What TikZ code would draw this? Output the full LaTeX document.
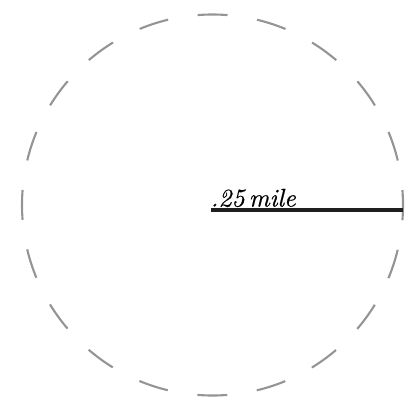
\documentclass[tikz,border=0pt]{standalone}
\usepackage{fontspec}
\setmainfont{Latin Modern Roman}
\newfontface\lblface{lmroman10-italic.otf}[FakeBold=0.5]
\begin{document}
\begin{tikzpicture}[x=1pt,y=1pt,
  ring/.style={draw=black!42, line width=2.1pt, dash pattern=on 29.92pt off 29.92pt, dash phase=14.96pt},
  radiusline/.style={draw=black!88, line width=4pt},
  lbl/.style={font=\lblface\fontsize{25.5}{30}\selectfont, inner sep=0pt, anchor=base west}]
\useasboundingbox (0,0) rectangle (412,397);
\coordinate (c) at (212.5,192);
\coordinate (lineL) at (211,187);
\coordinate (lineR) at (403,187);
\draw[ring] (c) ++(0:190.5) arc[start angle=0, end angle=360, radius=190.5];
\draw[radiusline] (lineL) -- (lineR);
\node[lbl] (t) at (210.5,190.5) {.25\,mile};
\end{tikzpicture}
\end{document}
